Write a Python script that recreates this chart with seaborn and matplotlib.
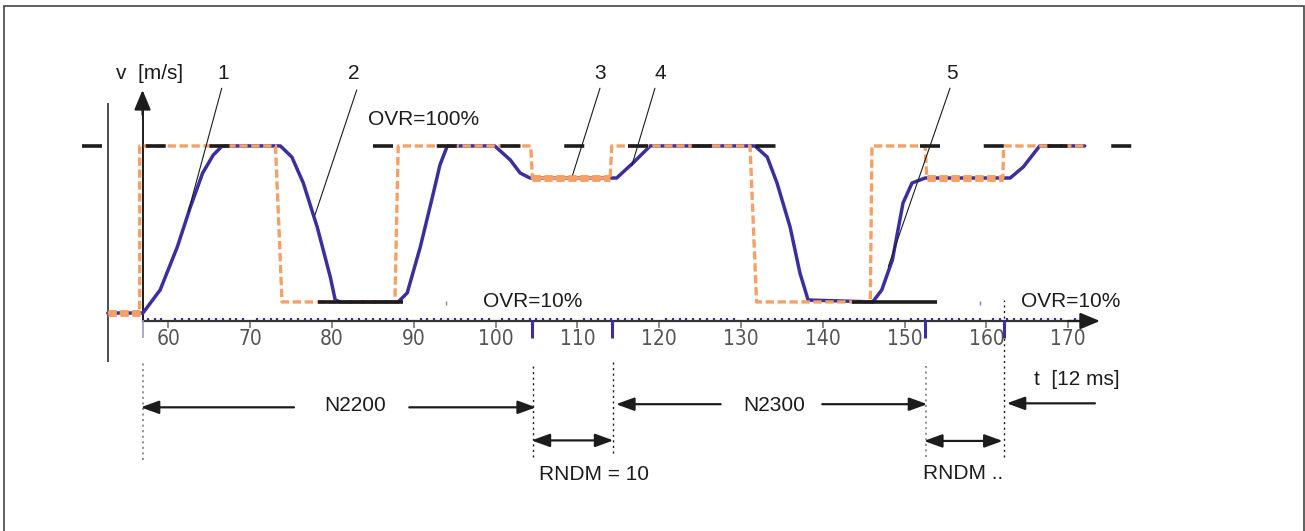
import numpy as np
import matplotlib
matplotlib.use('Agg')
import matplotlib.pyplot as plt
import seaborn as sns
from matplotlib import font_manager
from matplotlib.patches import Rectangle
from matplotlib.ticker import FixedLocator

# time axis in [12 ms], speed in % of programmed speed
# actual path speed (blue)
t_act = [52.6, 56.9, 59.0, 61.1, 62.7, 64.2, 65.5, 66.6, 73.7, 75.1, 76.5, 78.2, 79.8, 80.4, 81.0,
         88.1, 89.2, 90.8, 92.4, 93.2, 94.1, 99.9, 101.8, 103.0, 104.2, 114.8, 116.8, 118.9,
         131.7, 133.2, 134.4, 136.0, 137.2, 138.2, 146.1, 147.2, 148.5, 149.8, 150.9, 152.5,
         162.9, 164.5, 166.5, 172.0]
v_act = [3.6, 3.6, 16.9, 41.7, 64.8, 84.4, 94.8, 100, 100, 93.6, 78.6, 53.2, 24.4, 11.1, 10,
         10, 15.2, 41.7, 72.9, 89.0, 100, 100, 91.9, 84.4, 81.5, 81.5, 90.2, 100,
         100, 93.6, 78.6, 53.2, 26.7, 11.1, 10, 16.9, 34.2, 67.1, 78.6, 81.5,
         81.5, 87.9, 100, 100]

# setpoint with override (orange)
t_set = [52.6, 56.5, 56.5, 73.1, 73.9, 87.7, 88.1, 104.3, 104.5, 114.0, 114.2,
         131.1, 131.9, 145.8, 146.0, 152.5, 152.7, 162.0, 162.1, 172.0]
v_set = [3.6, 3.6, 100, 100, 10, 10, 100, 100, 81.5, 81.5, 100,
         100, 10, 10, 100, 100, 81.5, 81.5, 100, 100]

# reduced setpoint in the RNDM blocks (drawn thicker)
thick_t = [(52.6, 56.5), (104.5, 114.0), (152.7, 162.0)]
thick_v = [3.6, 81.5, 81.5]

# OVR=100% and OVR=10% reference levels
ovr100_spans = [(49.5, 67.5), (85.0, 134.4), (151.9, 177.9)]
ovr10_spans = [(78.3, 88.7), (143.6, 154.0)]
ovr10_dots = [94.0, 159.2]

# block change points
block_bounds = [104.4, 114.2, 152.5, 162.1]
x_ticks = [60, 70, 80, 90, 100, 110, 120, 130, 140, 150, 160, 170]

blue = '#3a2f9c'
orange = '#f5a067'
dark = '#1c1c1c'

sns.set_theme(style='white')
plt.rcParams['font.family'] = ['Liberation Sans', 'DejaVu Sans']
plt.rcParams['lines.scale_dashes'] = False

names = {f.name for f in font_manager.fontManager.ttflist}
narrow = 'Liberation Sans Narrow' if 'Liberation Sans Narrow' in names else 'DejaVu Sans'

fig = plt.figure(figsize=(13.05, 5.31), dpi=100)
ax = fig.add_axes([0, 0, 1, 1])
ax.set_facecolor('none')
ax.set_xlim(39.43, 198.93)
ax.set_ylim(-122.16, 184.2)
sns.despine(ax=ax)

# axes through the origin
ax.spines['bottom'].set_position(('data', -1))
ax.spines['bottom'].set_bounds(56.85, 172)
ax.spines['bottom'].set_color('#333333')
ax.spines['bottom'].set_linewidth(1.6)
ax.spines['left'].set_position(('data', 56.85))
ax.spines['left'].set_bounds(-1, 122)
ax.spines['left'].set_color(dark)
ax.spines['left'].set_linewidth(1.4)
ax.set_yticks([])
ax.set_xticks(x_ticks)
# 10 ms steps on the 12 ms axis
ax.xaxis.set_minor_locator(FixedLocator(np.arange(57.5, 172.5, 10 / 12)))
ax.tick_params(axis='x', which='major', direction='out', length=5, width=1.2,
               color='#777777', labelcolor='#555555', labelsize=15, pad=1, bottom=True)
ax.tick_params(axis='x', which='minor', direction='in', length=2.5, width=1.6,
               color=blue, bottom=True)
for lab in ax.get_xticklabels():
    lab.set_fontfamily(narrow)
    if narrow == 'DejaVu Sans':
        lab.set_fontstretch('condensed')

arr = dict(color=dark, lw=1.6, shrinkA=0, shrinkB=0, mutation_scale=20)
ax.annotate('', xy=(173.87, -1), xytext=(170, -1),
            arrowprops=dict(arrowstyle='-|>,head_length=0.6,head_width=0.25', **arr))
ax.annotate('', xy=(56.85, 132.3), xytext=(56.85, 118),
            arrowprops=dict(arrowstyle='-|>,head_length=0.6,head_width=0.25', **arr))

# left frame line
ax.vlines(52.59, -24.5, 124.6, color=dark, lw=1.1)

# block boundaries on the time axis
ax.vlines(block_bounds, -10.8, -0.4, color=blue, lw=2.2, zorder=6)
ax.vlines([56.9], -10.8, -0.4, color='#9a9ad0', lw=1.2, zorder=6)

# curves
sns.lineplot(x=t_act, y=v_act, sort=False, estimator=None, color=blue, lw=2.5, ax=ax, zorder=3)
sns.lineplot(x=t_set, y=v_set, sort=False, estimator=None, color=orange, lw=2.4, ax=ax, zorder=4,
             linestyle=(0, (6, 2.6)), dash_capstyle='butt')
for (a, b), lev in zip(thick_t, thick_v):
    ax.plot([a, b], [lev, lev], color=orange, lw=5, linestyle=(0, (6, 2.6)),
            dash_capstyle='butt', zorder=5)

for a, b in ovr100_spans:
    ax.plot([a, b], [100, 100], color=dark, lw=2.6, linestyle=(0, (14.4, 31.5)),
            dash_capstyle='butt', zorder=6)
for a, b in ovr10_spans:
    ax.plot([a, b], [10, 10], color=dark, lw=2.6, solid_capstyle='butt', zorder=6)
ax.plot(ovr10_dots, [9.3, 9.3], ls='none', marker='|', ms=3, color='#888888')

# leader lines and numbers
leaders = [((66.53, 133.3), (62.44, 62.1), '1', 66.65),
           ((83.03, 132.3), (77.93, 60.2), '2', 82.61),
           ((112.76, 133.3), (109.42, 83.3), '3', 112.76),
           ((119.48, 133.3), (116.64, 88.5), '4', 120.1),
           ((155.54, 133.3), (148.0, 30.4), '5', 155.74)]
for p0, p1, txt, tx in leaders:
    ax.plot([p0[0], p1[0]], [p0[1], p1[1]], color=dark, lw=0.8, zorder=7)
    ax.text(tx, 142.0, txt, ha='center', va='center', fontsize=15, color=dark)

ax.text(57.76, 142.0, 'v  [m/s]', ha='center', va='center', fontsize=15, color=dark)
ax.text(91.17, 115.0, 'OVR=100%', ha='center', va='center', fontsize=15, color=dark)
ax.text(104.51, 10.2, 'OVR=10%', ha='center', va='center', fontsize=15, color=dark)
ax.text(170.27, 10.2, 'OVR=10%', ha='center', va='center', fontsize=15, color=dark)
ax.text(171.06, -35.0, 't  [12 ms]', ha='center', va='center', fontsize=15, color=dark)

# dotted block markers below the axis
ax.vlines([56.95], -81.2, -24.5, color='#777777', lw=1.1, linestyle=(0, (1.5, 2.5)))
ax.vlines([152.6], -79.3, -26.4, color='#777777', lw=1.1, linestyle=(0, (1.5, 2.5)))
ax.vlines([104.53], -79.3, -26.4, color=dark, lw=1.0, linestyle=(0, (1.5, 2.5)))
ax.vlines([114.39], -77.3, -24.5, color=dark, lw=1.0, linestyle=(0, (1.5, 2.5)))
ax.vlines([162.18], -79.3, 11.0, color=dark, lw=1.0, linestyle=(0, (1.5, 2.5)))

one = dict(arrowstyle='-|>,head_length=0.55,head_width=0.2', **arr)
two = dict(arrowstyle='<|-|>,head_length=0.55,head_width=0.2', **arr)
ax.annotate('', xy=(56.63, -50.8), xytext=(75.36, -50.8), arrowprops=one)
ax.annotate('', xy=(104.94, -50.8), xytext=(89.45, -50.8), arrowprops=one)
ax.annotate('', xy=(114.72, -49.0), xytext=(127.51, -49.0), arrowprops=one)
ax.annotate('', xy=(152.77, -49.0), xytext=(139.93, -49.0), arrowprops=one)
ax.annotate('', xy=(162.47, -48.5), xytext=(173.26, -48.5), arrowprops=one)
ax.annotate('', xy=(114.4, -69.9), xytext=(104.4, -69.9), arrowprops=two)
ax.annotate('', xy=(161.98, -70.2), xytext=(152.36, -70.2), arrowprops=two)

ax.text(82.8, -50.0, 'N2200', ha='center', va='center', fontsize=15, color=dark)
ax.text(134.09, -49.5, 'N2300', ha='center', va='center', fontsize=15, color=dark)
ax.text(111.99, -89.3, 'RNDM = 10', ha='center', va='center', fontsize=15, color=dark)
ax.text(157.13, -88.9, 'RNDM ..', ha='center', va='center', fontsize=15, color=dark)

# picture frame
fig.patches.append(Rectangle((4 / 1305, -0.02), 1300 / 1305, 1.0087, transform=fig.transFigure,
                             fill=False, edgecolor='#444444', lw=1.2))

fig.savefig('out.png', dpi=100)
